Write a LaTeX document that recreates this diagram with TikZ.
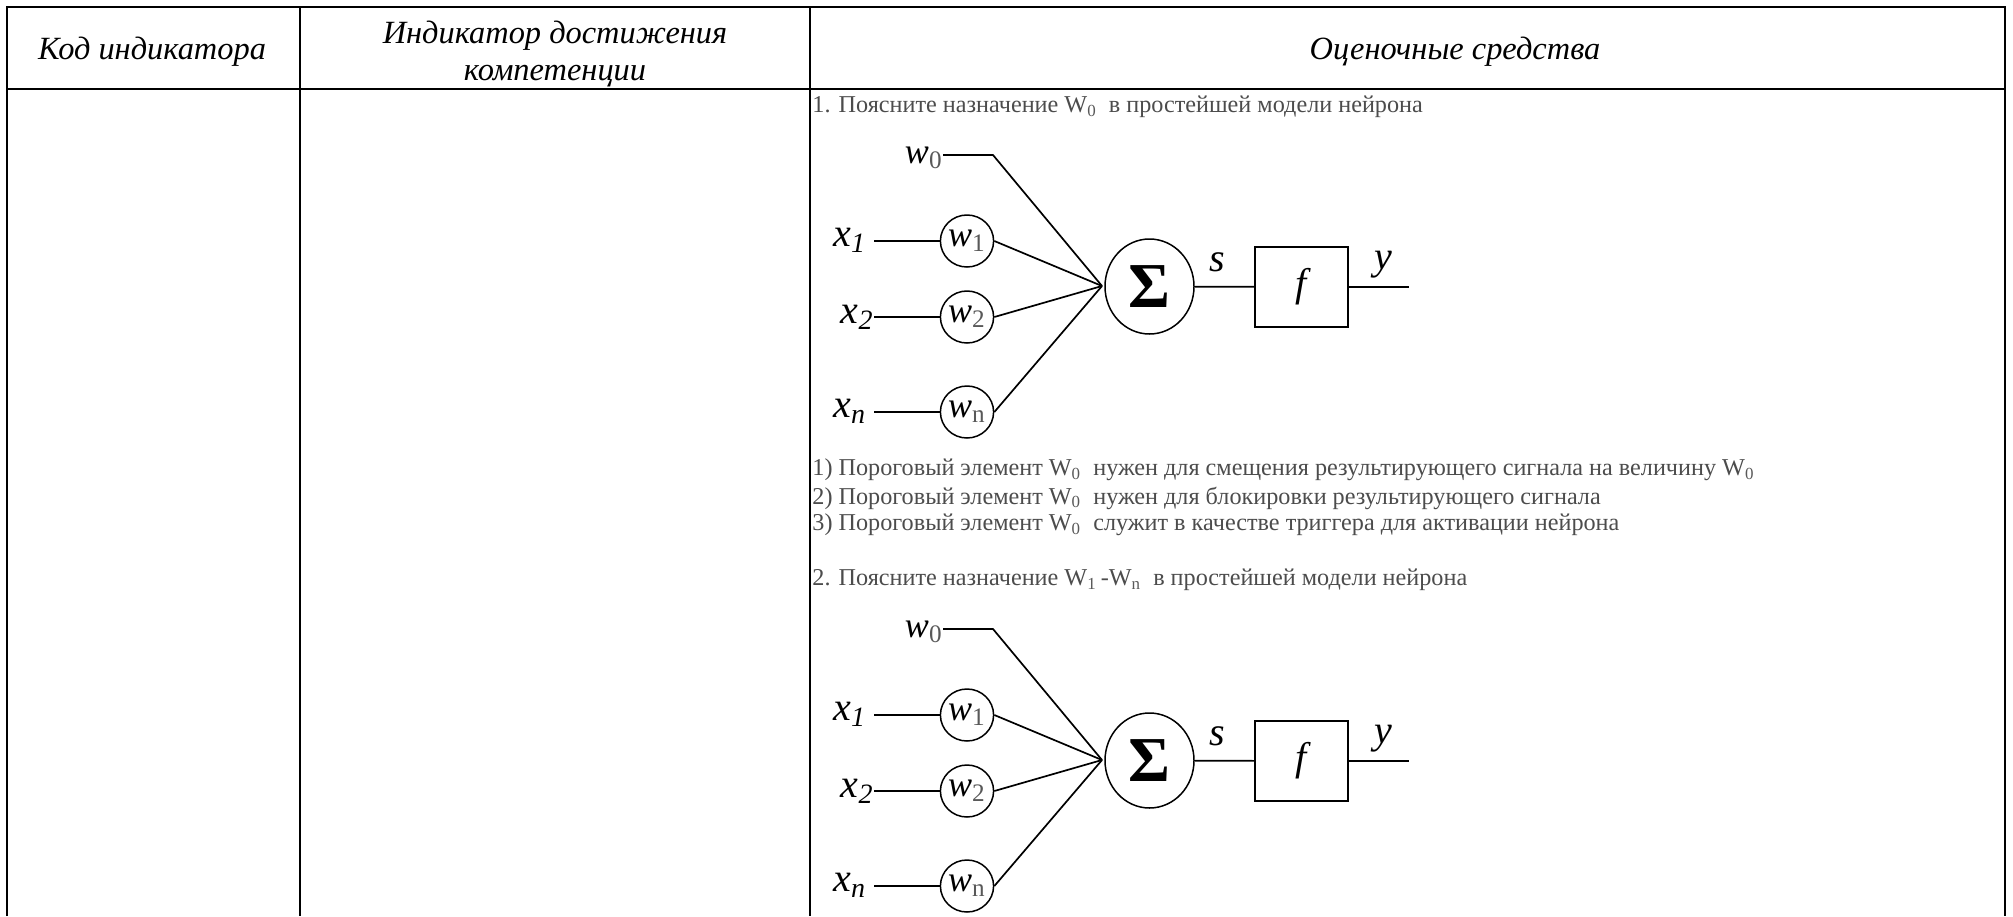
\documentclass[tikz,border=0pt]{standalone}
\usepackage{fontspec}
\setmainfont{Liberation Serif}
\usetikzlibrary{shapes.geometric}
\definecolor{q}{gray}{0.3}
\definecolor{idx}{gray}{0.35}
\tikzset{
	head/.style={inner sep=0pt, align=center, font=\fontsize{16.2}{18.5}\selectfont\itshape},
	quest/.style={inner sep=0pt, anchor=west, text=q, font=\fontsize{12.1}{14}\selectfont},
	weight/.style={draw, ellipse, line width=0.75pt, inner sep=0pt, minimum width=26pt, minimum height=26pt, font=\fontsize{18}{20}\selectfont\itshape},
	lab/.style={inner sep=0pt, font=\fontsize{20}{22}\selectfont\itshape},
	wire/.style={line width=0.85pt},
}
\newcommand{\lowidx}[1]{\textsubscript{\textcolor{idx}{\upshape #1}}}
\newcommand{\neuronpicture}[1]{
	% inputs and weights
	\node[lab, anchor=east, font=\fontsize{18}{20}\selectfont\itshape] (#1wzero) at (943,158) {w\lowidx{0}};
	\coordinate (#1bend) at (993,155);
	\coordinate (#1hub) at (1102,286);
	\node[weight] (#1wone) at (967,241) {w\lowidx{1}};
	\node[weight] (#1wtwo) at (967,317) {w\lowidx{2}};
	\node[weight] (#1wn) at (967,412) {w\lowidx{n}};
	\node[lab, anchor=east, outer xsep=4pt] (#1xone) at (874,240) {x\textsubscript{\itshape 1}};
	\node[lab, anchor=east] (#1xtwo) at (874,317) {x\textsubscript{\itshape 2}};
	\node[lab, anchor=east, outer xsep=4pt] (#1xn) at (874,411) {x\textsubscript{\itshape n}};
	\draw[wire] (#1wzero.east |- #1bend) -- (#1bend) -- (#1hub);
	\draw[wire] (#1xone.east |- #1wone.west) -- (#1wone.west);
	\draw[wire] (#1xtwo.east |- #1wtwo.west) -- (#1wtwo.west);
	\draw[wire] (#1xn.east |- #1wn.west) -- (#1wn.west);
	\draw[wire] (#1wone.east) -- (#1hub);
	\draw[wire] (#1wtwo.east) -- (#1hub);
	\draw[wire] (#1wn.east) -- (#1hub);

	% sum and activation
	\node[draw, ellipse, line width=0.75pt, inner sep=0pt, minimum width=44.5pt, minimum height=47.5pt, font=\fontsize{32}{36}\selectfont\bfseries] (#1sum) at (1149.5,286.5) {Σ};
	\node[draw, line width=0.9pt, inner sep=0pt, minimum width=46.5pt, minimum height=40pt, font=\fontsize{20}{22}\selectfont\itshape] (#1act) at (1301.5,287) {f};
	\coordinate (#1out) at (1409,287);
	\draw[wire] (#1sum) -- (#1act);
	\draw[wire] (#1act) -- (#1out);
	\node[lab] (#1s) at (1217,262) {s};
	\node[lab] (#1y) at (1383,265) {y};
}

\begin{document}
\begin{tikzpicture}[x=0.5pt, y=-0.5pt]
	\useasboundingbox (0,0) rectangle (2013,916);

	% table rules
	\draw[line width=1pt] (7,916) -- (7,7) -- (2005,7) -- (2005,916);
	\draw[line width=1pt] (7,88.5) -- (2005,88.5);
	\draw[line width=1pt] (300,7) -- (300,916);
	\draw[line width=1pt] (810,7) -- (810,916);

	% header
	\node[head, anchor=base] (code) at (152,59) {Код индикатора};
	\node[head] (ind) at (555,54) {Индикатор достижения\\компетенции};
	\node[head, anchor=base] (tools) at (1455,59) {Оценочные средства};

	% first question
	\node[quest] (qone) at (812,107) {1. Поясните назначение W\lowidx{0}\ \ в простейшей модели нейрона};
	\neuronpicture{a}
	\node[quest] (aone) at (812,470) {1) Пороговый элемент W\lowidx{0}\ \ нужен для смещения результирующего сигнала на величину W\lowidx{0}};
	\node[quest] (atwo) at (812,498) {2) Пороговый элемент W\lowidx{0}\ \ нужен для блокировки результирующего сигнала};
	\node[quest] (athree) at (812,525) {3) Пороговый элемент W\lowidx{0}\ \ служит в качестве триггера для активации нейрона};

	% second question
	\node[quest] (qtwo) at (812,580) {2. Поясните назначение W\lowidx{1}\,-W\lowidx{n}\ \ в простейшей модели нейрона};
	\begin{scope}[yshift=-237pt]
		\neuronpicture{b}
	\end{scope}
\end{tikzpicture}
\end{document}
